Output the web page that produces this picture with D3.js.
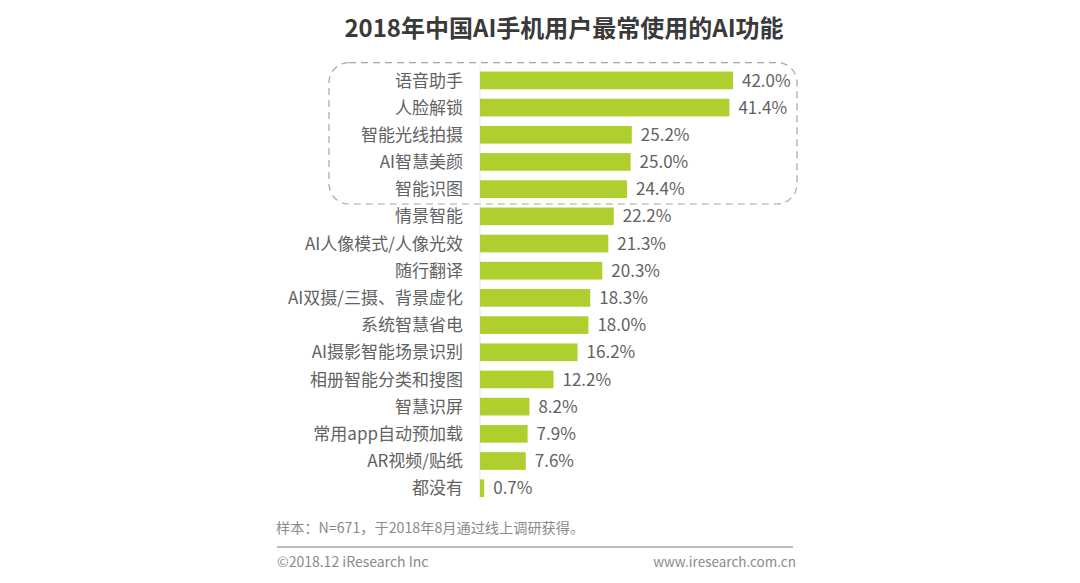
<!doctype html>
<html lang="zh">
<head>
<meta charset="utf-8">
<script src="https://cdn.jsdelivr.net/npm/d3@7/dist/d3.min.js"></script>
<style>
  html, body {margin:0; padding:0; background:#fff}
  svg {display:block}
  text {font-family:"Noto Sans CJK SC","Noto Sans",sans-serif}
</style>
<title>2018年中国AI手机用户最常使用的AI功能</title>
</head>
<body>
<script>
const categories = ["语音助手","人脸解锁","智能光线拍摄","AI智慧美颜","智能识图","情景智能","AI人像模式/人像光效","随行翻译","AI双摄/三摄、背景虚化","系统智慧省电","AI摄影智能场景识别","相册智能分类和搜图","智慧识屏","常用app自动预加载","AR视频/贴纸","都没有"];
const values = [42.0,41.4,25.2,25.0,24.4,22.2,21.3,20.3,18.3,18.0,16.2,12.2,8.2,7.9,7.6,0.7];
const highlighted = categories.slice(0,5);

const svg = d3.select("body").append("svg").attr("width",1080).attr("height",583);

const x = d3.scaleLinear().domain([0,42]).range([480,733]);
const y = d3.scaleBand().domain(categories).range([66.8,501.8]).paddingInner(0.35).paddingOuter(0.175);

svg.append("text").attr("x",564).attr("y",37)
  .attr("text-anchor","middle").attr("font-size",24).attr("font-weight",700).attr("fill","#3a3a3a")
  .text("2018年中国AI手机用户最常使用的AI功能");

// dashed box round the top five
let boxTop = y(highlighted[0])-9, boxBottom = y(highlighted[4])+y.bandwidth()+6;
svg.append("rect").attr("x",329).attr("y",boxTop).attr("width",468).attr("height",boxBottom-boxTop)
  .attr("rx",20).attr("fill","none").attr("stroke","#a6a6a6").attr("stroke-width",1.2).attr("stroke-dasharray","7 5");

svg.append("line").attr("x1",x(0)).attr("x2",x(0)).attr("y1",66).attr("y2",500).attr("stroke","#e6e6e6");

svg.selectAll("rect.bar").data(values).enter().append("rect")
  .attr("class","bar")
  .attr("x",x(0)).attr("y",(d,i)=>y(categories[i]))
  .attr("width",d=>x(d)-x(0)).attr("height",y.bandwidth())
  .attr("fill","#aecf2e");

svg.selectAll("text.cat").data(categories).enter().append("text")
  .attr("class","cat")
  .attr("x",463).attr("y",d=>y(d)+y.bandwidth()/2).attr("dy","0.36em")
  .attr("text-anchor","end").attr("font-size",17).attr("fill","#626262")
  .text(d=>d);

svg.selectAll("text.val").data(values).enter().append("text")
  .attr("class","val")
  .attr("x",d=>x(d)+9).attr("y",(d,i)=>y(categories[i])+y.bandwidth()/2).attr("dy","0.36em")
  .attr("font-size",17).attr("fill","#626262")
  .text(d=>d.toFixed(1)+"%");

svg.append("text").attr("x",276).attr("y",533).attr("font-size",14.2).attr("fill","#8a8a8a")
  .text("样本：N=671，于2018年8月通过线上调研获得。");
svg.append("line").attr("x1",277).attr("x2",793).attr("y1",547).attr("y2",547).attr("stroke","#a6a6a6").attr("stroke-width",1.5);
svg.append("text").attr("x",277).attr("y",567).attr("font-size",14).attr("fill","#8a8a8a")
  .text("©2018.12 iResearch Inc");
svg.append("text").attr("x",796).attr("y",567).attr("text-anchor","end").attr("font-size",13.5).attr("fill","#8a8a8a")
  .text("www.iresearch.com.cn");
</script>
</body>
</html>
